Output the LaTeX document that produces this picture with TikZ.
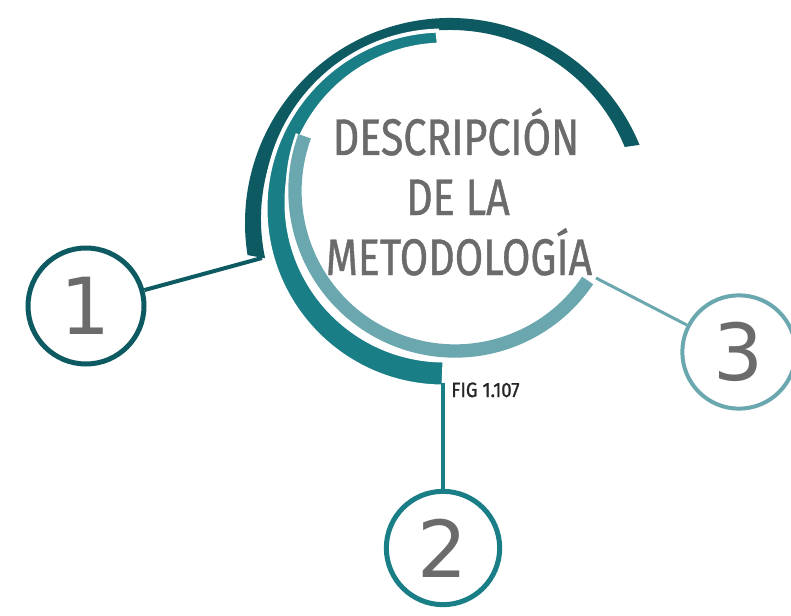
\documentclass[tikz,border=0pt]{standalone}
\usepackage{fontspec}
\newfontfamily\titlefont[FakeStretch=0.8,FakeBold=0.8]{Fira Sans}
\newfontfamily\figfont[FakeStretch=0.9,FakeBold=1.2]{Fira Sans}
\newfontfamily\numfont{DejaVu Sans}
\definecolor{arcdark}{HTML}{0E5A62}
\definecolor{arcteal}{HTML}{1A7E86}
\definecolor{arclight}{HTML}{6AA7AF}
\definecolor{textgray}{HTML}{6B6B6B}
\tikzset{
  ring/.style={circle, draw, line width=3.75pt, minimum size=87pt, inner sep=0pt,
    text=textgray, font=\numfont\fontsize{59}{59}\selectfont},
  headline/.style={anchor=base, inner sep=0pt, text=textgray,
    font=\titlefont\fontsize{38.6}{45}\selectfont},
  link/.style={line width=3pt}
}
\begin{document}
\begin{tikzpicture}[x=0.75pt,y=0.75pt]
        \clip (0,0) rectangle (791,615);
        %% outer dark arc
        \fill[arcdark] ([shift={(450,392)}]22.4:205) arc[start angle=22.4, end angle=189, radius=205]
            -- ([shift={(450,396)}]192:189) arc[start angle=192, end angle=22.4, radius=189] -- cycle;
        %% middle teal arc, white rim keeps a gap
        \filldraw[fill=arcteal, draw=white, line width=3pt]
            ([shift={(443.5,406.5)}]92:178) arc[start angle=92, end angle=270, radius=178]
            -- ([shift={(444.5,412.5)}]270:158) arc[start angle=270, end angle=92, radius=158] -- cycle;
        %% inner light arc
        \draw[white, line width=14pt] ([shift={(455,424)}]160:160) arc[start angle=160, end angle=326, radius=160];
        \draw[arclight, line width=10pt] ([shift={(455,424)}]160:160) arc[start angle=160, end angle=326, radius=160];
        %% title
        \node[headline] (t1) at (456,460) {DESCRIPCIÓN};
        \node[headline] (t2) at (458,400) {DE LA};
        \node[headline] (t3) at (459,340) {METODOLOGÍA};
        \node[anchor=base west, inner sep=0pt, text=black!85,
            font=\figfont\fontsize{15.5}{15.5}\selectfont] (fig) at (451,218) {FIG 1.107};
        %% numbered rings
        \node[ring, draw=arcdark] (c1) at (86,309) {1};
        \node[ring, draw=arcteal, minimum size=85pt] (c2) at (443,67) {2};
        \node[ring, draw=arclight, line width=3pt, minimum size=85pt] (c3) at (739,263) {3};
        %% links
        \coordinate (e1) at (262,357);
        \coordinate (e2) at (443,232);
        \coordinate (e3) at (596,337);
        \draw[link, arcdark] (e1) -- (c1);
        \draw[link, arcteal] (e2) -- (c2);
        \draw[link, arclight, line width=2.25pt] (e3) -- (c3);
    \end{tikzpicture}
\end{document}
